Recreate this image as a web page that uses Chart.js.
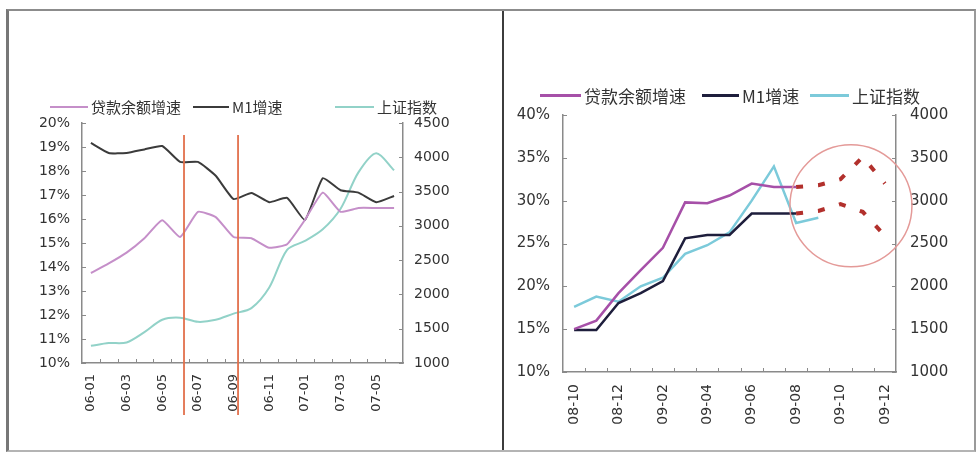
<!DOCTYPE html>
<html>
<head>
<meta charset="utf-8">
<script src="https://cdn.jsdelivr.net/npm/chart.js@4.4.0/dist/chart.umd.min.js"></script>
<style>
  html, body { margin: 0; padding: 0; background: #fff; }
  body { width: 978px; height: 454px; position: relative; overflow: hidden; }
  .frame { position: absolute; box-sizing: border-box; }
  #frameL { left: 6px; top: 9px; width: 498px; height: 443px;
            border-left: 3px solid #777; border-top: 2px solid #8c8c8c;
            border-right: 2px solid #3c3c3c; border-bottom: 2px solid #b4b4b4; }
  #frameR { left: 502px; top: 9px; width: 474px; height: 443px;
            border-top: 2px solid #8c8c8c; border-right: 2px solid #9a9a9a;
            border-bottom: 2px solid #b4b4b4; }
  canvas { position: absolute; }
  #chartL { left: 10px; top: 12px; }
  #chartR { left: 505px; top: 12px; }
  .legend { position: absolute; left: 0; top: 0; font-family: "Noto Sans CJK SC", sans-serif; color: #333; }
  .legend .item { position: absolute; display: flex; align-items: center; white-space: nowrap; }
  .legend .swatch { display: inline-block; margin-right: 3px; }
</style>
</head>
<body>
<div class="frame" id="frameL"></div>
<div class="frame" id="frameR"></div>
<canvas id="chartL" width="490" height="436"></canvas>
<canvas id="chartR" width="468" height="436"></canvas>
<div class="legend" id="legendL"></div>
<div class="legend" id="legendR"></div>
<script>
// 2006-01 .. 2007-06
const leftMonths = ["06-01", "06-02", "06-03", "06-04", "06-05", "06-06", "06-07", "06-08", "06-09",
  "06-10", "06-11", "06-12", "07-01", "07-02", "07-03", "07-04", "07-05", "07-06"];
const leftLoan = [13.75, 14.15, 14.6, 15.2, 15.95, 15.25, 16.3, 16.08, 15.25,
  15.2, 14.8, 14.95, 15.96, 17.1, 16.3, 16.46, 16.46, 16.46];
const leftM1 = [19.17, 18.75, 18.75, 18.9, 19.04, 18.38, 18.38, 17.8, 16.83,
  17.08, 16.7, 16.88, 15.96, 17.7, 17.2, 17.1, 16.7, 16.96];
const leftIndex = [1250, 1290, 1300, 1450, 1630, 1660, 1600, 1630, 1720,
  1800, 2100, 2650, 2780, 2950, 3250, 3780, 4060, 3810];
// policy dates marked with vertical lines (category index)
const leftMarks = [5.22, 8.25];

// 2008-10 .. 2009-12
const rightMonths = ["08-10", "08-11", "08-12", "09-01", "09-02", "09-03", "09-04", "09-05",
  "09-06", "09-07", "09-08", "09-09", "09-10", "09-11", "09-12"];
const rightLoan = [15.0, 16.0, 19.2, 21.9, 24.5, 29.8, 29.7, 30.6, 32.0, 31.6, 31.6];
const rightM1 = [14.9, 14.9, 18.05, 19.2, 20.6, 25.6, 26.0, 26.0, 28.5, 28.5, 28.5];
const rightIndex = [1760, 1880, 1820, 2000, 2100, 2380, 2480, 2630, 3000, 3400, 2740, 2800];
const rightLoanOutlook = [null, null, null, null, null, null, null, null, null, null, 31.6, 31.8, 32.5, 35.1, 32.0];
const rightM1Outlook = [null, null, null, null, null, null, null, null, null, null, 28.5, 28.8, 29.6, 28.7, 25.9];

const seriesNames = ["贷款余额增速", "M1增速", "上证指数"];

const tickFont = (size) => ({ family: "DejaVu Sans", size: size });
const tickColor = "#333";
const axisColor = "#8a8a8a";

// small tick marks pointing into the plot area
const innerTicks = {
  id: "innerTicks",
  beforeDatasetsDraw(chart) {
    const { ctx, chartArea: a, scales } = chart;
    const len = 4;
    ctx.save();
    ctx.strokeStyle = axisColor;
    ctx.lineWidth = 1;
    ctx.beginPath();
    ["y", "y1"].forEach((id) => {
      const s = scales[id];
      const x0 = id === "y" ? a.left : a.right;
      const dir = id === "y" ? 1 : -1;
      s.ticks.forEach((t) => {
        const py = Math.round(s.getPixelForValue(t.value)) + 0.5;
        ctx.moveTo(x0, py);
        ctx.lineTo(x0 + dir * len, py);
      });
    });
    const x = scales.x;
    for (let i = 1; i < x.ticks.length; i++) {
      const px = Math.round(x.getPixelForValue(i - 0.5)) + 0.5;
      ctx.moveTo(px, a.bottom);
      ctx.lineTo(px, a.bottom - len);
    }
    ctx.stroke();
    ctx.restore();
  },
};

const markLines = {
  id: "markLines",
  afterDatasetsDraw(chart) {
    const { ctx, chartArea: a, scales } = chart;
    ctx.save();
    ctx.strokeStyle = "#e2704c";
    ctx.lineWidth = 1.8;
    leftMarks.forEach((m) => {
      const px = scales.x.getPixelForValue(m);
      ctx.beginPath();
      ctx.moveTo(px, a.top + 12);
      ctx.lineTo(px, a.bottom + 52);
      ctx.stroke();
    });
    ctx.restore();
  },
};

const outlookCircle = {
  id: "outlookCircle",
  afterDatasetsDraw(chart) {
    const { ctx, scales } = chart;
    const cx = scales.x.getPixelForValue(12.47);
    const cy = scales.y.getPixelForValue(29.4);
    ctx.save();
    ctx.strokeStyle = "#e49a98";
    ctx.lineWidth = 1.5;
    ctx.beginPath();
    ctx.arc(cx, cy, 61, 0, Math.PI * 2);
    ctx.stroke();
    ctx.restore();
  },
};

function fixSize(prop, v) {
  return (scale) => { scale[prop] = v; };
}

function line(label, data, color, width, axis, tension) {
  return {
    label: label,
    data: data,
    yAxisID: axis,
    borderColor: color,
    backgroundColor: color,
    borderWidth: width,
    pointRadius: 0,
    tension: tension || 0,
    fill: false,
  };
}

function everyOther(labels) {
  return (v, i) => (i % 2 === 0 ? labels[i] : "");
}

const plain = (v) => String(v);
const pct = (v) => v + "%";

function buildLegend(el, items, pos, font, thick, top) {
  el.style.fontSize = font + "px";
  items.forEach((it, i) => {
    const d = document.createElement("div");
    d.className = "item";
    d.style.left = pos[i][0] + "px";
    d.style.top = top + "px";
    const sw = document.createElement("span");
    sw.className = "swatch";
    sw.style.width = pos[i][1] + "px";
    sw.style.height = thick + "px";
    sw.style.background = it.color;
    d.appendChild(sw);
    d.appendChild(document.createTextNode(it.name));
    el.appendChild(d);
  });
}

// ---- left panel: 2006-2007 ----
const colL = ["#c58fc9", "#3b3b3b", "#92d2c8"];
new Chart(document.getElementById("chartL"), {
  type: "line",
  data: {
    labels: leftMonths,
    datasets: [
      line(seriesNames[0], leftLoan, colL[0], 2, "y", 0.15),
      line(seriesNames[1], leftM1, colL[1], 2, "y", 0.15),
      line(seriesNames[2], leftIndex, colL[2], 2, "y1", 0.3),
    ],
  },
  options: {
    responsive: false,
    animation: false,
    devicePixelRatio: 1,
    layout: { padding: { top: 111, left: 0, right: 0, bottom: 0 } },
    plugins: { legend: { display: false }, tooltip: { enabled: false } },
    scales: {
      x: {
        offset: true,
        grid: { display: false, drawTicks: false, offset: true },
        border: { display: true, color: axisColor, width: 1.5 },
        ticks: { color: tickColor, font: tickFont(13), minRotation: 90, maxRotation: 90,
          autoSkip: false, padding: 11, callback: everyOther(leftMonths) },
        afterFit: fixSize("height", 85),
      },
      y: {
        position: "left",
        min: 10, max: 20,
        grid: { display: false, drawTicks: false },
        border: { display: true, color: axisColor, width: 1.5 },
        ticks: { stepSize: 1, color: tickColor, font: tickFont(14), padding: 12, callback: pct },
        afterFit: fixSize("width", 72),
      },
      y1: {
        position: "right",
        min: 1000, max: 4500,
        grid: { display: false, drawTicks: false },
        border: { display: true, color: axisColor, width: 1.5 },
        ticks: { stepSize: 500, color: tickColor, font: tickFont(14), padding: 11, callback: plain },
        afterFit: fixSize("width", 97),
      },
    },
  },
  plugins: [innerTicks, markLines],
});

// ---- right panel: 2008-2009 ----
const colR = ["#a650a8", "#1e1e3c", "#7ccada"];
const outlookRed = "#b2302c";
new Chart(document.getElementById("chartR"), {
  type: "line",
  data: {
    labels: rightMonths,
    datasets: [
      line(seriesNames[0], rightLoan, colR[0], 2.5, "y"),
      line(seriesNames[1], rightM1, colR[1], 2.5, "y"),
      line(seriesNames[2], rightIndex, colR[2], 2.5, "y1"),
      Object.assign(line("loan outlook", rightLoanOutlook, outlookRed, 4, "y"), { borderDash: [7, 15] }),
      Object.assign(line("M1 outlook", rightM1Outlook, outlookRed, 4, "y"), { borderDash: [7, 15] }),
    ],
  },
  options: {
    responsive: false,
    animation: false,
    devicePixelRatio: 1,
    layout: { padding: { top: 103, left: 0, right: 0, bottom: 0 } },
    plugins: { legend: { display: false }, tooltip: { enabled: false } },
    scales: {
      x: {
        offset: true,
        grid: { display: false, drawTicks: false, offset: true },
        border: { display: true, color: axisColor, width: 1.5 },
        ticks: { color: tickColor, font: tickFont(14), minRotation: 90, maxRotation: 90,
          autoSkip: false, padding: 12, callback: everyOther(rightMonths) },
        afterFit: fixSize("height", 76),
      },
      y: {
        position: "left",
        min: 10, max: 40,
        grid: { display: false, drawTicks: false },
        border: { display: true, color: axisColor, width: 1.5 },
        ticks: { stepSize: 5, color: tickColor, font: tickFont(15), padding: 13, callback: pct },
        afterFit: fixSize("width", 58),
      },
      y1: {
        position: "right",
        min: 1000, max: 4000,
        grid: { display: false, drawTicks: false },
        border: { display: true, color: axisColor, width: 1.5 },
        ticks: { stepSize: 500, color: tickColor, font: tickFont(15), padding: 14, callback: plain },
        afterFit: fixSize("width", 77),
      },
    },
  },
  plugins: [innerTicks, outlookCircle],
});

buildLegend(document.getElementById("legendL"),
  seriesNames.map((n, i) => ({ name: n, color: colL[i] })),
  [[50, 38], [193, 36], [335, 39]], 15, 2, 96);
buildLegend(document.getElementById("legendR"),
  seriesNames.map((n, i) => ({ name: n, color: colR[i] })),
  [[540, 41], [702, 37], [810, 39]], 17, 3, 83);
</script>
</body>
</html>
